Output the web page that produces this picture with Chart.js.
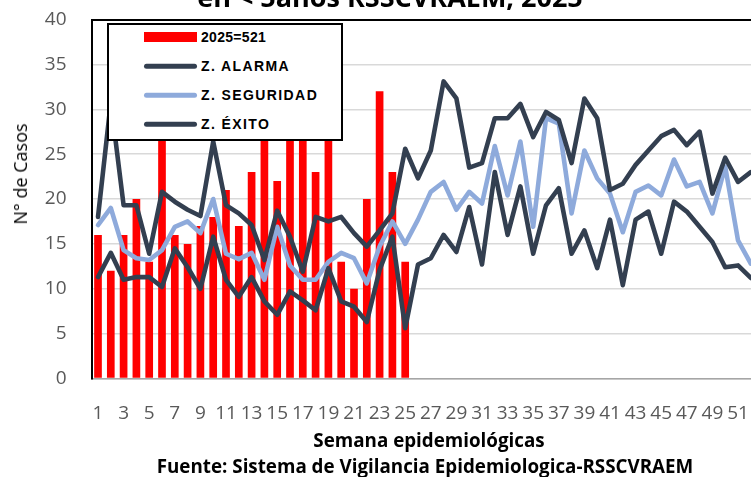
<!DOCTYPE html>
<html>
<head>
<meta charset="utf-8">
<script src="https://cdn.jsdelivr.net/npm/chart.js@4.4.1/dist/chart.umd.min.js"></script>
<style>
html,body{margin:0;padding:0;background:#fff;}
body{width:751px;height:477px;overflow:hidden;position:relative;font-family:'Open Sans',sans-serif;}
#graf{position:absolute;left:0;top:0;}
.txt{position:absolute;white-space:nowrap;color:#000;}
#titulo{left:390px;top:-17px;font-size:27px;font-weight:700;line-height:28px;transform:translateX(-50%);}
#ytit{left:20px;top:174px;font-size:18px;line-height:20px;transform:translate(-50%,-50%) rotate(-90deg);}
#xtit{left:429px;top:429px;font-size:18.8px;font-weight:700;line-height:22px;transform:translateX(-50%);}
#fuente{left:425px;top:455px;font-size:18.8px;font-weight:700;line-height:22px;transform:translateX(-50%);}
#leyenda{position:absolute;left:107px;top:23px;width:232px;height:114px;border:2px solid #000;background:#fff;}
.item{position:absolute;left:0;height:20px;width:230px;}
.item .mk{position:absolute;left:35px;width:53px;top:50%;transform:translateY(-50%);}
.item span{position:absolute;left:92px;top:0;line-height:20px;font-family:'Liberation Sans',Arial,sans-serif;font-weight:700;font-size:14px;letter-spacing:1.4px;}
</style>
</head>
<body>
<canvas id="graf" width="770" height="477"></canvas>
<div class="txt" id="titulo">en &lt; 5años RSSCVRAEM, 2025</div>
<div class="txt" id="ytit">N° de Casos</div>
<div class="txt" id="xtit">Semana epidemiológicas</div>
<div class="txt" id="fuente">Fuente: Sistema de Vigilancia Epidemiologica-RSSCVRAEM</div>
<div id="leyenda"></div>
<script>
// semanas epidemiologicas
const semanas=['1','2','3','4','5','6','7','8','9','10','11','12','13','14','15','16','17','18','19','20','21','22','23','24','25','26',
'27','28','29','30','31','32','33','34','35','36','37','38','39','40','41','42','43','44','45','46','47','48','49','50','51','52'];
// casos 2025 (hasta SE 25)
const casos2025=[16,12,16,20,13,30,16,15,17,18,21,17,23,33,22,34,31,23,33,13,10,20,32,23,13,
null,null,null,null,null,null,null,null,null,null,null,null,null,null,null,null,null,null,null,null,null,null,null,null,null,null,null];
// canal endemico
const zAlarma=[18.0,30.8,19.3,19.3,13.9,20.8,19.7,18.8,18.1,26.4,19.3,18.4,17.1,13.2,18.7,15.8,11.9,18.0,17.5,18.0,16.2,14.7,16.5,18.4,25.6,22.3,
25.4,33.1,31.2,23.5,24.0,29.0,29.0,30.6,26.9,29.7,28.8,24.0,31.2,29.0,21.0,21.7,23.8,25.4,27.0,27.7,26.0,27.5,20.6,24.6,21.9,23.0];
const zSeguridad=[17.1,19.0,14.3,13.4,13.2,14.3,16.9,17.5,16.2,20.0,13.9,13.3,14.0,11.0,16.9,12.6,11.0,11.0,13.0,14.0,13.4,10.6,14.7,17.5,15.0,17.7,
20.8,21.9,18.8,20.8,19.5,25.9,20.4,26.4,16.9,29.0,28.4,18.4,25.4,22.3,20.6,16.3,20.8,21.5,20.4,24.4,21.4,21.9,18.4,23.6,15.4,12.8];
const zExito=[11.3,14.0,11.0,11.3,11.3,10.2,14.5,12.4,10.0,15.8,11.0,9.1,11.3,8.6,7.1,9.7,8.7,7.6,12.3,8.6,8.0,6.3,12.1,15.8,5.6,12.7,
13.4,16.0,14.1,19.1,12.7,23.0,16.0,21.4,13.9,19.3,21.2,13.9,16.5,12.3,17.7,10.4,17.7,18.6,13.9,19.7,18.6,16.9,15.2,12.4,12.6,11.2];
const yTicks=[0,5,10,15,20,25,30,35,40];

const ROJO='#ff0000',OSCURO='#333f50',CELESTE='#8eaadb';
Chart.defaults.font.family="'Open Sans',sans-serif";
Chart.defaults.animation=false;

const linea=(label,data,color,order)=>({type:'line',label,data,borderColor:color,backgroundColor:color,borderWidth:4.6,
  pointRadius:0,tension:0,borderJoinStyle:'round',borderCapStyle:'round',order});

const chart=new Chart(document.getElementById('graf'),{
  data:{labels:semanas,datasets:[
    {type:'bar',label:'2025=521',data:casos2025,backgroundColor:ROJO,barPercentage:1,categoryPercentage:0.6,order:4},
    linea('Z. ALARMA',zAlarma,OSCURO,1),
    linea('Z. SEGURIDAD',zSeguridad,CELESTE,3),
    linea('Z. ÉXITO',zExito,OSCURO,2)
  ]},
  options:{
    responsive:false,devicePixelRatio:1,
    layout:{padding:{top:19.5,right:12.8,left:0,bottom:0}},
    plugins:{legend:{display:false},tooltip:{enabled:false},title:{display:false}},
    scales:{
      x:{offset:true,grid:{display:false},border:{color:'#a6a6a6',width:1.5},
        ticks:{autoSkip:false,maxRotation:0,minRotation:0,padding:16,color:'#595959',font:{size:19},
          callback:(v,i)=>i%2===0?semanas[i]:''},
        afterFit:s=>{s.height=98.5;}},
      y:{min:0,max:40,afterBuildTicks:s=>{s.ticks=yTicks.map(v=>({value:v}));},
        border:{color:'#000',width:2},
        // tick marks invisibles: solo sirven para separar las etiquetas del eje
        grid:{drawTicks:true,tickLength:25,tickColor:'rgba(0,0,0,0)',
          color:c=>c.tick&&c.tick.value===40?'#000':'#d9d9d9',lineWidth:c=>c.tick&&c.tick.value===40?2:1.4},
        ticks:{padding:0,color:'#595959',font:{size:19}},
        afterFit:s=>{s.width=91.6;}}
    }
  }
});

// leyenda
const ley=document.getElementById('leyenda');
const filas=[12,41,70,99];
chart.data.datasets.forEach((d,i)=>{
  const it=document.createElement('div');it.className='item';it.style.top=(filas[i]-10)+'px';
  const mk=document.createElement('div');mk.className='mk';
  if(d.type==='bar'){mk.style.height='10px';mk.style.background=d.backgroundColor;}
  else{mk.style.height='4.6px';mk.style.borderRadius='3px';mk.style.background=d.borderColor;}
  const sp=document.createElement('span');sp.textContent=d.label;
  if(d.type==='bar')sp.style.letterSpacing='0.3px';
  it.appendChild(mk);it.appendChild(sp);ley.appendChild(it);
});
</script>
</body>
</html>
